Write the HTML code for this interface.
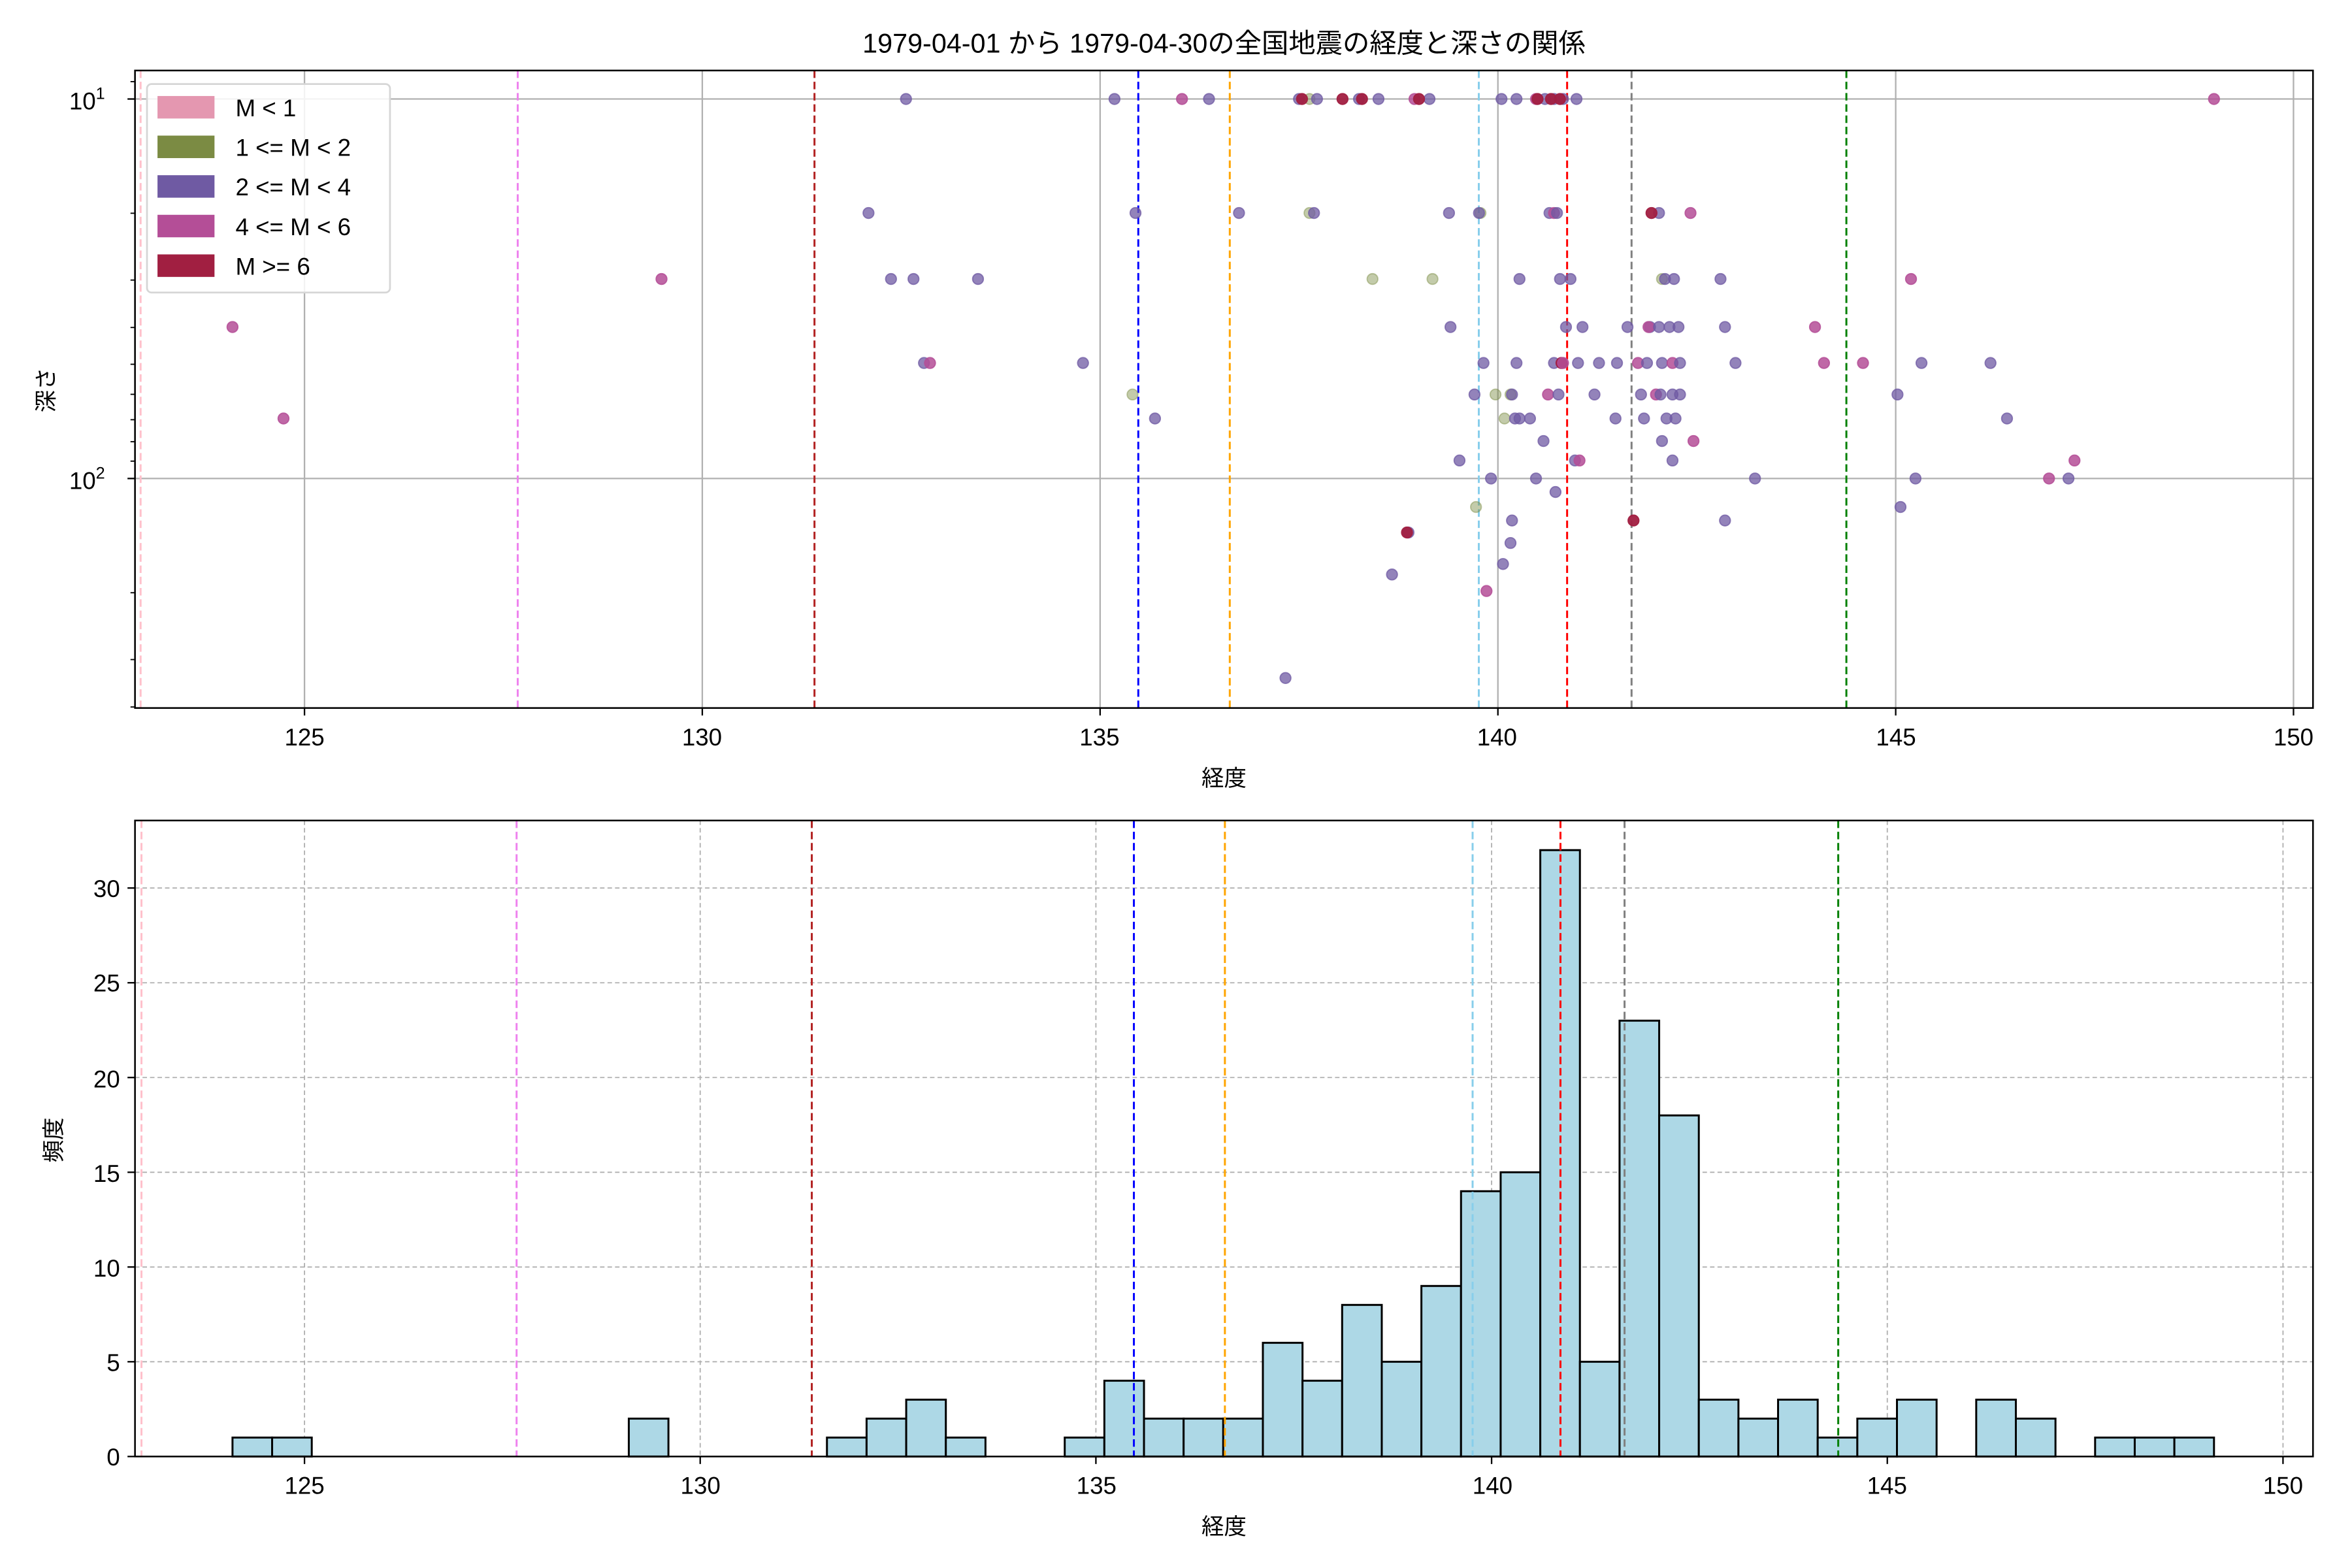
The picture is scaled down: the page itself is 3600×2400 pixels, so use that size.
<!DOCTYPE html>
<html><head><meta charset="utf-8"><style>
html,body{margin:0;padding:0;background:#fff;}
svg{display:block;font-family:"Liberation Sans","Noto Sans CJK JP",sans-serif;}
</style></head><body>
<svg id="s" width="3600" height="2400" viewBox="0 0 1568 1045.33" xmlns="http://www.w3.org/2000/svg">
<rect x="0" y="0" width="1568" height="1046" fill="#fff"/>
<text x="816" y="35" font-size="18" text-anchor="middle">1979-04-01 から 1979-04-30の全国地震の経度と深さの関係</text>
<g id="top"></g>
<g id="bot"></g>
<text x="816" y="524" font-size="15" text-anchor="middle">経度</text>
<text x="816" y="1023" font-size="15" text-anchor="middle">経度</text>
<text transform="translate(36,260) rotate(-90)" font-size="15" text-anchor="middle">深さ</text>
<text transform="translate(41,760) rotate(-90)" font-size="15" text-anchor="middle">頻度</text>
<text x="70" y="73" font-size="16" text-anchor="end">10<tspan dy="-7" font-size="11">1</tspan></text>
<text x="70" y="326" font-size="16" text-anchor="end">10<tspan dy="-7" font-size="11">2</tspan></text>
<g font-size="16" text-anchor="middle">
<text x="203" y="497">125</text><text x="468" y="497">130</text><text x="733" y="497">135</text><text x="998" y="497">140</text><text x="1264" y="497">145</text><text x="1529" y="497">150</text>
<text x="203" y="996">125</text><text x="467" y="996">130</text><text x="731" y="996">135</text><text x="995" y="996">140</text><text x="1258" y="996">145</text><text x="1522" y="996">150</text>
</g>
<g font-size="16" text-anchor="end">
<text x="80" y="977">0</text><text x="80" y="914">5</text><text x="80" y="851">10</text><text x="80" y="788">15</text><text x="80" y="725">20</text><text x="80" y="661">25</text><text x="80" y="598">30</text>
</g>
</svg>
<script>
var NS="http://www.w3.org/2000/svg";
function el(p,t,a){var e=document.createElementNS(NS,t);for(var k in a)e.setAttribute(k,a[k]);p.appendChild(e);return e;}
var T=document.getElementById('top'),B=document.getElementById('bot');
var L=90,R=1542,t0=47,t1=472,b0=547,b1=971;
function xt(l){return 203+(l-125)*53.04;}
function xb(l){return 203+(l-125)*52.76;}
function yt(d){return 66+(Math.log10(d)-1)*253;}
function yb(c){return 971-c*12.633;}
// top grid
[125,130,135,140,145,150].forEach(function(v){var x=xt(v);el(T,'line',{x1:x,x2:x,y1:t0,y2:t1,stroke:'#b0b0b0','stroke-width':1});el(T,'line',{x1:x,x2:x,y1:t1,y2:t1+5,stroke:'#000','stroke-width':1});});
[10,100].forEach(function(v){var y=yt(v);el(T,'line',{x1:L,x2:R,y1:y,y2:y,stroke:'#b0b0b0','stroke-width':1});el(T,'line',{x1:L-5,x2:L,y1:y,y2:y,stroke:'#000','stroke-width':1});});
[9,20,30,40,50,60,70,80,90,200,300,400].forEach(function(v){var y=yt(v);if(y>=t0&&y<=t1)el(T,'line',{x1:L-3,x2:L,y1:y,y2:y,stroke:'#000','stroke-width':0.8});});
// vlines
var V=[[122.94,'pink'],[127.68,'violet'],[131.41,'#b22222'],[135.48,'blue'],[136.63,'orange'],[139.76,'#87ceeb'],[140.87,'red'],[141.68,'gray'],[144.38,'green']];
V.forEach(function(v){el(T,'line',{x1:xt(v[0]),x2:xt(v[0]),y1:t0,y2:t1,stroke:v[1],'stroke-width':1.3,'stroke-dasharray':'5,2.5'});});
// points
var C={p:'rgba(111,90,163,0.75)',o:'rgba(123,139,67,0.45)',m:'rgba(180,78,151,0.85)',c:'rgba(161,31,65,0.95)'};
var P={
66:'p604 p743 p806 p866 o873 p878 p906 p919 p953 p1001 p1011 p1030 p1036 p1042 p1051 m788 m943 m1024 m1476 c868 c895 c908 c946 c1025 c1034 c1040',
142:'p579 p757 p826 o873 p876 p966 o987 p986 p1033 m1036 p1038 p1106 c1101 m1127',
186:'m441 m1274 p594 p609 p652 o915 o955 p1013 p1040 p1047 o1108 p1110 p1116 p1147',
218:'m155 m1210 p967 p1044 p1055 p1085 p1100 m1099 p1106 p1113 p1119 p1150',
242:'p616 m620 p722 p989 p1011 p1036 c1041 m1042 p1052 p1066 p1078 m1092 p1098 p1108 m1115 p1120 p1157 m1216 m1242 p1281 p1327',
263:'o755 p983 o997 o1007 p1008 m1032 p1039 p1063 p1094 m1104 p1107 p1115 p1120 p1265',
279:'m189 p770 o1003 p1010 p1013 p1020 p1077 p1096 p1111 p1117 p1338',
294:'p1029 p1108 m1129',307:'p973 p1050 m1053 p1115 m1383',319:'p994 p1024 p1170 p1277 m1366 p1379',
328:'p1037',338:'o984 p1267',347:'p1008 p1150 c1089',355:'p939 c938',362:'p1007',376:'p1002',383:'p928',394:'m991',452:'p857'};
for(var y in P){P[y].split(' ').forEach(function(s){el(T,'circle',{cx:+s.slice(1),cy:+y,r:3.6,fill:C[s[0]],stroke:C[s[0]],'stroke-width':0.8});});}
el(T,'rect',{x:L,y:t0,width:R-L,height:t1-t0,fill:'none',stroke:'#000','stroke-width':1.1});
// legend
el(T,'rect',{x:98,y:56,width:162,height:139,rx:3,fill:'rgba(255,255,255,0.85)',stroke:'#d6d6d6','stroke-width':1.2});
var LG=[['#e497b0','M < 1'],['#7b8b43','1 <= M < 2'],['#6f5aa3','2 <= M < 4'],['#b44e97','4 <= M < 6'],['#a11f41','M >= 6']];
LG.forEach(function(g,i){var cy=71.5+i*26.4;el(T,'rect',{x:105,y:cy-7.5,width:38,height:15,fill:g[0]});var t=el(T,'text',{x:157,y:cy+6,'font-size':16});t.textContent=g[1];});
// bottom grid
[125,130,135,140,145,150].forEach(function(v){var x=xb(v);el(B,'line',{x1:x,x2:x,y1:b0,y2:b1,stroke:'#b0b0b0','stroke-width':0.8,'stroke-dasharray':'3,2'});el(B,'line',{x1:x,x2:x,y1:b1,y2:b1+5,stroke:'#000','stroke-width':1});});
[0,5,10,15,20,25,30].forEach(function(v){var y=yb(v);el(B,'line',{x1:L,x2:R,y1:y,y2:y,stroke:'#b0b0b0','stroke-width':0.8,'stroke-dasharray':'3,2'});el(B,'line',{x1:L-5,x2:L,y1:y,y2:y,stroke:'#000','stroke-width':1});});
var H=[1,1,0,0,0,0,0,0,0,0,2,0,0,0,0,1,2,3,1,0,0,1,4,2,2,2,6,4,8,5,9,14,15,32,5,23,18,3,2,3,1,2,3,0,3,2,0,1,1,1];
var w=26.42;
H.forEach(function(c,i){if(!c)return;var x=155+w*i;el(B,'rect',{x:x,y:yb(c),width:w,height:c*12.633,fill:'#add8e6',stroke:'#000','stroke-width':1.3});});
V.forEach(function(v){el(B,'line',{x1:xb(v[0]),x2:xb(v[0]),y1:b0,y2:b1,stroke:v[1],'stroke-width':1.3,'stroke-dasharray':'5,2.5'});});
el(B,'rect',{x:L,y:b0,width:R-L,height:b1-b0,fill:'none',stroke:'#000','stroke-width':1.1});
</script>
</body></html>
